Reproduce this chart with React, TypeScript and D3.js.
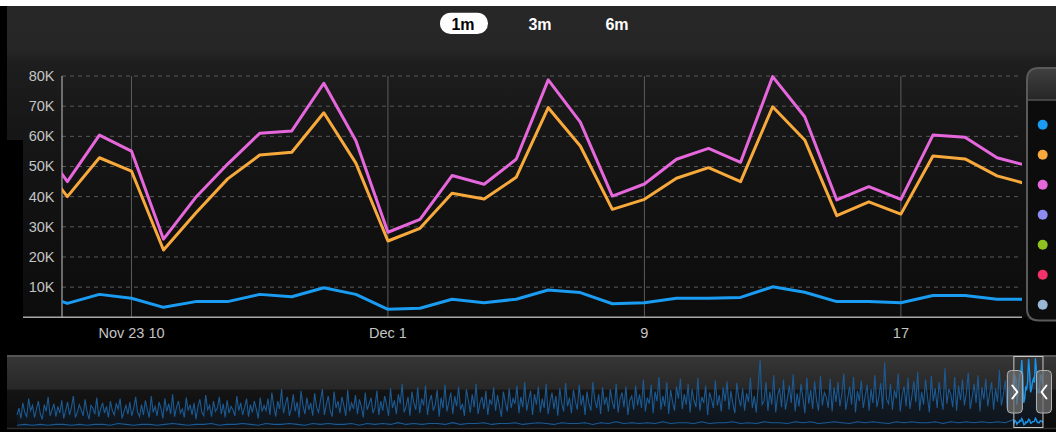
import React from 'react';
import * as d3 from 'd3';

// ---------- data ----------
const mainDates = [
  '2013-11-20', '2013-11-21', '2013-11-22', '2013-11-23', '2013-11-24', '2013-11-25', '2013-11-26', '2013-11-27',
  '2013-11-28', '2013-11-29', '2013-11-30', '2013-12-01', '2013-12-02', '2013-12-03', '2013-12-04', '2013-12-05',
  '2013-12-06', '2013-12-07', '2013-12-08', '2013-12-09', '2013-12-10', '2013-12-11', '2013-12-12', '2013-12-13',
  '2013-12-14', '2013-12-15', '2013-12-16', '2013-12-17', '2013-12-18', '2013-12-19', '2013-12-20', '2013-12-21',
];
// values in thousands
const seriesPink = [
  60, 45.0, 60.4, 55.1, 25.9, 39.7, 50.8, 61.0, 61.8, 77.6, 58.5, 28.2, 32.5, 47.0, 44.1, 52.4,
  78.7, 64.7, 40.2, 44.2, 52.4, 56.0, 51.4, 79.8, 66.5, 38.9, 43.3, 39.1, 60.4, 59.7, 52.9, 50.1,
];
const seriesOrange = [
  54, 40.0, 52.9, 48.5, 22.3, 34.5, 45.9, 53.8, 54.7, 67.8, 51.1, 25.3, 29.5, 41.1, 39.2, 46.4,
  69.5, 56.8, 35.8, 39.1, 46.1, 49.6, 45.0, 69.8, 58.8, 33.7, 38.3, 34.2, 53.5, 52.5, 46.9, 44.0,
];
const seriesBlue = [
  8.4, 4.6, 7.6, 6.3, 3.3, 5.2, 5.2, 7.6, 6.8, 9.8, 7.6, 2.65, 3.0, 6.0, 4.85, 6.0,
  9.05, 8.2, 4.5, 4.85, 6.3, 6.3, 6.6, 10.1, 8.3, 5.2, 5.2, 4.85, 7.2, 7.2, 6.0, 6.0,
];

const yTicks = [10, 20, 30, 40, 50, 60, 70, 80];
const xTickDates = ['2013-11-23', '2013-12-01', '2013-12-09', '2013-12-17'];
const xTickLabels = ['Nov 23 10', 'Dec 1', '9', '17'];
const rangeLabels = ['1m', '3m', '6m'];
const legendColors = ['#1a9cf2', '#f8a93b', '#e667dc', '#8c8cf0', '#8ec21e', '#f3326a', '#9ab8d6'];

// navigator history (2-day steps), thousands
const navHistoryTotal = [
  14, 22, 10, 28, 17, 12, 33, 19, 25, 11, 21, 30, 15, 9, 26, 18, 35, 13, 20, 27, 12, 24, 16, 31, 10, 19, 29, 14, 23, 36, 11, 17,
  26, 20, 13, 32, 18, 9, 25, 22, 15, 34, 12, 21, 28, 16, 24, 11, 30, 19, 14, 27, 21, 33, 10, 18, 25, 15, 29, 13, 22, 35, 17, 12,
  26, 14, 31, 20, 11, 36, 17, 24, 13, 29, 22, 10, 33, 18, 27, 15, 38, 12, 23, 30, 16, 21, 11, 34, 19, 26, 14, 28, 9, 24, 32, 17,
  13, 37, 20, 25, 12, 30, 18, 22, 35, 15, 27, 11, 31, 16, 24, 20, 13, 36, 19, 28, 14, 23, 33, 12, 26, 17, 30, 21, 10, 34, 18, 25,
  19, 33, 14, 40, 24, 12, 30, 21, 44, 16, 27, 35, 13, 22, 38, 18, 29, 11, 42, 25, 15, 34, 20, 28, 13, 39, 23, 17, 31, 44, 14, 26,
  36, 19, 12, 41, 22, 30, 16, 35, 25, 13, 43, 18, 28, 21, 37, 15, 32, 24, 11, 40, 20, 27, 34, 16, 23, 42, 14, 30, 19, 36, 26, 13,
  45, 22, 31, 15, 38, 27, 50, 17, 24, 35, 13, 41, 28, 20, 46, 16, 33, 25, 48, 14, 30, 37, 19, 26, 43, 12, 34, 22, 49, 18, 29, 40,
  15, 36, 24, 47, 20, 27, 13, 44, 31, 17, 38, 23, 50, 15, 28, 35, 21, 42, 14, 32, 26, 46, 19, 37, 24, 12, 41, 29, 18, 45, 22, 33,
  27, 48, 16, 35, 23, 52, 19, 31, 42, 14, 38, 26, 47, 17, 33, 22, 50, 15, 29, 40, 21, 36, 13, 45, 28, 18, 51, 24, 34, 16, 43, 30,
  20, 49, 25, 37, 14, 41, 27, 19, 52, 32, 22, 38, 15, 46, 26, 35, 18, 44, 29, 21, 50, 17, 33, 40, 23, 47, 14, 31, 36, 20, 48, 25,
  38, 22, 55, 18, 34, 27, 49, 16, 41, 30, 58, 20, 36, 24, 52, 15, 43, 29, 19, 47, 33, 56, 21, 38, 26, 50, 17, 44, 31, 23, 57, 19,
  35, 28, 48, 14, 40, 32, 22, 54, 25, 37, 18, 46, 30, 53, 20, 42, 27, 16, 51, 34, 24, 45, 19, 39, 29, 57, 22, 36, 17, 48, 78, 26,
  30, 52, 19, 41, 26, 60, 17, 37, 45, 23, 55, 20, 33, 48, 28, 61, 18, 39, 24, 50, 34, 16, 57, 27, 43, 21, 53, 31, 19, 59, 25, 40,
  35, 22, 56, 18, 46, 29, 52, 24, 38, 62, 20, 33, 47, 26, 58, 17, 42, 30, 54, 22, 36, 49, 19, 44, 28, 60, 23, 35, 51, 21, 75, 32,
  27, 50, 20, 43, 33, 62, 18, 38, 47, 24, 57, 21, 36, 53, 29, 64, 19, 41, 26, 55, 35, 17, 59, 30, 45, 22, 52, 34, 20, 68, 27, 44,
  38, 23, 58, 19, 48, 31, 55, 25, 40, 63, 21, 35, 50, 28, 60, 18, 46, 32, 56, 24, 39, 52, 20, 45, 29, 66, 25, 37, 54, 22, 48, 33,
];
// navigator history (8-day steps), thousands
const navHistoryLow = [
  2, 3, 2, 3, 2, 3, 3, 2, 3, 2, 3, 3, 2, 4, 3, 2, 3, 3, 2, 3, 4, 3, 2, 3, 3, 4, 2, 3, 3, 4, 3, 2,
  4, 3, 3, 4, 3, 2, 4, 3, 4, 3, 3, 4, 2, 4, 3, 4, 3, 5, 3, 4, 3, 4, 4, 3, 5, 3, 4, 4, 5, 3, 4, 4,
  5, 3, 4, 5, 4, 3, 5, 4, 4, 5, 3, 5, 4, 6, 4, 5, 4, 5, 4, 6, 4, 5, 5, 4, 6, 4, 5, 5, 6, 4, 5, 4,
  6, 5, 5, 4, 6, 5, 6, 4, 5, 6, 5, 4, 6, 5, 6, 5, 4, 6, 5, 6, 5, 5, 6, 4, 6, 5, 6, 5, 6, 5, 6, 5,
];

const FONT = "'Liberation Sans', Arial, sans-serif";
const DAY = 86400000;
const toDate = (s: string) => new Date(s + 'T00:00:00Z');

export default function App() {
  const W = 1056, H = 432;
  const PL = 62, PR = 1022, PT = 76, PB = 317.3;

  const x = d3.scaleUtc()
    .domain([new Date(Date.UTC(2013, 10, 20, 20)), new Date(Date.UTC(2013, 11, 20, 18, 40))])
    .range([PL, PR]);
  const y = d3.scaleLinear().domain([0, 80]).range([PB, PT]);
  const dates = mainDates.map(toDate);

  const mkLine = (vals: number[]) =>
    d3.line<number>().x((_, i) => x(dates[i])).y((v) => y(v)).curve(d3.curveLinear)(vals) || '';

  // navigator
  const start = dates[0].getTime();
  const navTotalDates = navHistoryTotal.map((_, i) => new Date(start - (navHistoryTotal.length - i) * 2 * DAY));
  const navLowDates = navHistoryLow.map((_, i) => new Date(start - (navHistoryLow.length - i) * 8 * DAY));
  const navTotal = navHistoryTotal.map((v, i) => ({ d: navTotalDates[i], v })).concat(seriesPink.map((v, i) => ({ d: dates[i], v })));
  const navLow = navHistoryLow.map((v, i) => ({ d: navLowDates[i], v })).concat(seriesBlue.map((v, i) => ({ d: dates[i], v })));
  const nx = d3.scaleUtc()
    .domain([navTotalDates[0], new Date(dates[dates.length - 1].getTime() + 7 * DAY)])
    .range([17, 1050]);
  const ny = d3.scaleLinear().domain([0, 80]).range([427, 358]);
  const navLine = d3.line<{ d: Date; v: number }>().x((p) => nx(p.d)).y((p) => ny(p.v));
  const navArea = d3.area<{ d: Date; v: number }>().x((p) => nx(p.d)).y0(427).y1((p) => ny(p.v));
  const selL = nx(x.domain()[0]);
  const selR = nx(x.domain()[1]);

  const btnX = d3.scalePoint<string>().domain(rangeLabels).range([463, 617]);
  const legY = d3.scalePoint<number>().domain(legendColors.map((_, i) => i)).range([124.7, 304.7]);

  const handle = (cx: number, dir: number) => (
    <g>
      <rect x={cx - 7.5} y={370.5} width={15} height={42.5} rx={4} fill="rgba(110,110,110,0.75)" stroke="#b5b5b5" strokeWidth={1} />
      <path d={`M${cx - 2.5 * dir},${385.5} L${cx + 2.5 * dir},${392} L${cx - 2.5 * dir},${398.5}`} fill="none" stroke="#fff" strokeWidth={2} strokeLinecap="round" strokeLinejoin="round" />
    </g>
  );

  return (
    <svg width={W} height={H} style={{ position: 'absolute', left: 0, top: 0, display: 'block' }} fontFamily={FONT}>
      <defs>
        <linearGradient id="bg" x1="0" y1="6" x2="0" y2="317" gradientUnits="userSpaceOnUse">
          <stop offset="0" stopColor="#272727" />
          <stop offset="0.14" stopColor="#262626" />
          <stop offset="0.18" stopColor="#1e1e1e" />
          <stop offset="0.37" stopColor="#171717" />
          <stop offset="0.62" stopColor="#121212" />
          <stop offset="1" stopColor="#0c0c0c" />
        </linearGradient>
        <linearGradient id="navbg" x1="0" y1="357" x2="0" y2="428" gradientUnits="userSpaceOnUse">
          <stop offset="0" stopColor="#363636" />
          <stop offset="0.45" stopColor="#272727" />
          <stop offset="0.47" stopColor="#141414" />
          <stop offset="1" stopColor="#0c0c0c" />
        </linearGradient>
        <linearGradient id="leghead" x1="0" y1="68" x2="0" y2="100" gradientUnits="userSpaceOnUse">
          <stop offset="0" stopColor="#404040" />
          <stop offset="1" stopColor="#262626" />
        </linearGradient>
        <clipPath id="plotclip">
          <rect x={PL} y={PT - 10} width={PR - PL} height={PB - PT + 12} />
        </clipPath>
        <clipPath id="selclip">
          <rect x={selL} y={355} width={selR - selL} height={75} />
        </clipPath>
      </defs>

      {/* page + chart background */}
      <rect x={0} y={0} width={W} height={H} fill="#fff" />
      <rect x={0} y={6} width={W} height={H - 6} fill="#000" />
      <rect x={7} y={6} width={W - 7} height={311.3} fill="url(#bg)" />
      <rect x={7} y={140} width={16} height={180} fill="#000" />

      {/* range selector */}
      <rect x={440} y={12.7} width={48} height={21.3} rx={10.6} fill="#fff" />
      {rangeLabels.map((l, i) => (
        <text key={l} x={btnX(l)} y={30} textAnchor="middle" fontSize={16} fontWeight="bold" fill={i === 0 ? '#000' : '#fff'}>
          {l}
        </text>
      ))}

      {/* grid */}
      {yTicks.map((t) => (
        <line key={t} x1={PL} x2={PR} y1={y(t)} y2={y(t)} stroke="#5a5a5a" strokeWidth={1} strokeDasharray="4,4" />
      ))}
      {xTickDates.map((d) => (
        <line key={d} x1={x(toDate(d))} x2={x(toDate(d))} y1={PT} y2={PB} stroke="#5c5c5c" strokeWidth={1} />
      ))}
      {/* axes */}
      <line x1={PL} x2={PL} y1={PT} y2={PB} stroke="#a8a8a8" strokeWidth={1.2} />
      <line x1={23} x2={PR} y1={PB} y2={PB} stroke="#a8a8a8" strokeWidth={1.5} />
      {yTicks.map((t) => (
        <text key={t} x={54.5} y={y(t) + 5} textAnchor="end" fontSize={14.5} fill="#c4c4c4">
          {t}K
        </text>
      ))}
      {xTickDates.map((d, i) => (
        <text key={d} x={x(toDate(d))} y={338} textAnchor="middle" fontSize={14.5} fill="#c4c4c4">
          {xTickLabels[i]}
        </text>
      ))}

      {/* series */}
      <g clipPath="url(#plotclip)" fill="none" strokeWidth={3} strokeLinejoin="round" strokeLinecap="round">
        <path d={mkLine(seriesBlue)} stroke="#1a9cf2" />
        <path d={mkLine(seriesOrange)} stroke="#f8a93b" />
        <path d={mkLine(seriesPink)} stroke="#e667dc" />
      </g>

      {/* legend */}
      <path d="M1027,320 L1027,80 Q1027,68 1039,68 L1060,68 L1060,320 Z" fill="#0c0c0c" />
      <path d="M1027,100 L1027,80 Q1027,68 1039,68 L1060,68 L1060,100 Z" fill="url(#leghead)" />
      <line x1={1027} x2={1060} y1={100} y2={100} stroke="#555" strokeWidth={1.5} />
      <path d="M1060,320.5 L1039,320.5 Q1027,320.5 1027,308.5 L1027,80 Q1027,68 1039,68 L1060,68" fill="none" stroke="#5a5a5a" strokeWidth={2} />
      {legendColors.map((c, i) => (
        <circle key={c} cx={1042.7} cy={legY(i)} r={5} fill={c} />
      ))}

      {/* navigator */}
      <rect x={7} y={355} width={W - 7} height={73} fill="url(#navbg)" />
      <line x1={7} x2={W} y1={356} y2={356} stroke="#555" strokeWidth={2} />
      <line x1={7} x2={W} y1={428.5} y2={428.5} stroke="#2e2e2e" strokeWidth={1.5} />
      <path d={navArea(navTotal) || ''} fill="rgba(30,100,170,0.10)" />
      <path d={navLine(navTotal) || ''} fill="none" stroke="#1c5a94" strokeWidth={1.1} />
      <path d={navLine(navLow) || ''} fill="none" stroke="#1c5a94" strokeWidth={1.1} />
      <g clipPath="url(#selclip)">
        <path d={navLine(navTotal) || ''} fill="none" stroke="#1a94e6" strokeWidth={1.3} />
        <path d={navLine(navLow) || ''} fill="none" stroke="#1a94e6" strokeWidth={1.3} />
      </g>
      <rect x={selL} y={356.5} width={selR - selL} height={71} fill="none" stroke="#c8c8c8" strokeWidth={1} />
      {handle(selL + 1, 1)}
      {handle(selR + 1, -1)}
    </svg>
  );
}
